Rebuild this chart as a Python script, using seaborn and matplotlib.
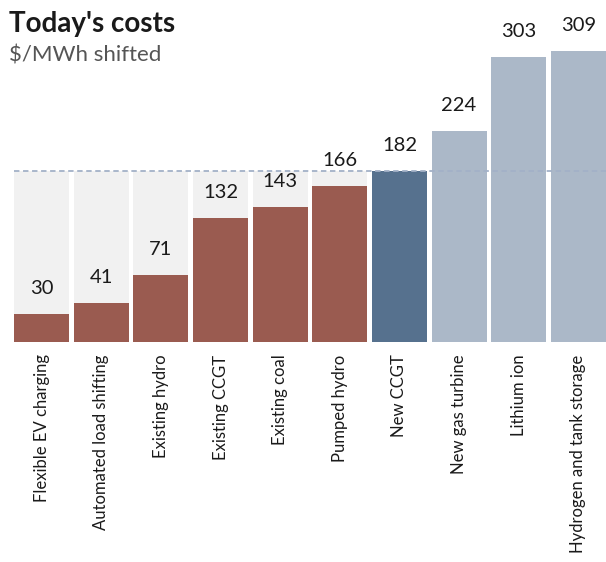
import matplotlib
matplotlib.use("Agg")
import matplotlib.pyplot as plt
import seaborn as sns
import pandas as pd

categories = [
    "Flexible EV charging", "Automated load shifting", "Existing hydro",
    "Existing CCGT", "Existing coal", "Pumped hydro", "New CCGT",
    "New gas turbine", "Lithium ion", "Hydrogen and tank storage",
]
costs = [30, 41, 71, 132, 143, 166, 182, 224, 303, 309]
groups = ["existing"] * 6 + ["reference"] + ["new"] * 3
reference_cost = 182

group_colors = {"existing": "#9a5b50", "reference": "#56718e", "new": "#abb8c8"}

df = pd.DataFrame({"category": categories, "cost": costs, "group": groups})
df["ref"] = reference_cost

sns.set_style("white")
plt.rcParams["font.family"] = ["Lato", "DejaVu Sans"]

fig = plt.figure(figsize=(6.06, 5.62), dpi=100)
ax = fig.add_axes([14 / 606, 220 / 562, 592 / 606, 342 / 562])

w = 0.925
# grey background columns up to the New CCGT level
sns.barplot(data=df, x="category", y="ref", color="#f1f1f1", width=w,
            saturation=1, linewidth=0, ax=ax, zorder=1)
sns.barplot(data=df, x="category", y="cost", hue="group", palette=group_colors,
            width=w, saturation=1, linewidth=0, dodge=False, legend=False,
            ax=ax, zorder=2)

ax.axhline(reference_cost, color="#a3b1c7", lw=1.3, ls=(0, (3, 2)), zorder=3)

for i, v in enumerate(costs):
    ax.text(i, v + 27, str(v), ha="center", va="center", fontsize=14.5,
            color="#1a1a1a", zorder=4)

ax.set_xlim(-w / 2, len(categories) - 1 + w / 2)
ax.set_ylim(0, 363)
ax.set_xlabel("")
ax.set_ylabel("")
ax.set_yticks([])
ax.set_xticks(range(len(categories)))
ax.set_xticklabels(categories, rotation=90, ha="center", va="top",
                   fontsize=12, color="#1a1a1a")
ax.tick_params(axis="x", length=0, pad=9)
for s in ax.spines.values():
    s.set_visible(False)

fig.text(9 / 606, 1 - 24 / 562, "Today's costs", fontsize=20, fontweight="bold",
         color="#1a1a1a", va="center", ha="left")
fig.text(9 / 606, 1 - 55 / 562, "$/MWh shifted", fontsize=16, color="#555555",
         va="center", ha="left")

fig.savefig("out.png", dpi=100)
